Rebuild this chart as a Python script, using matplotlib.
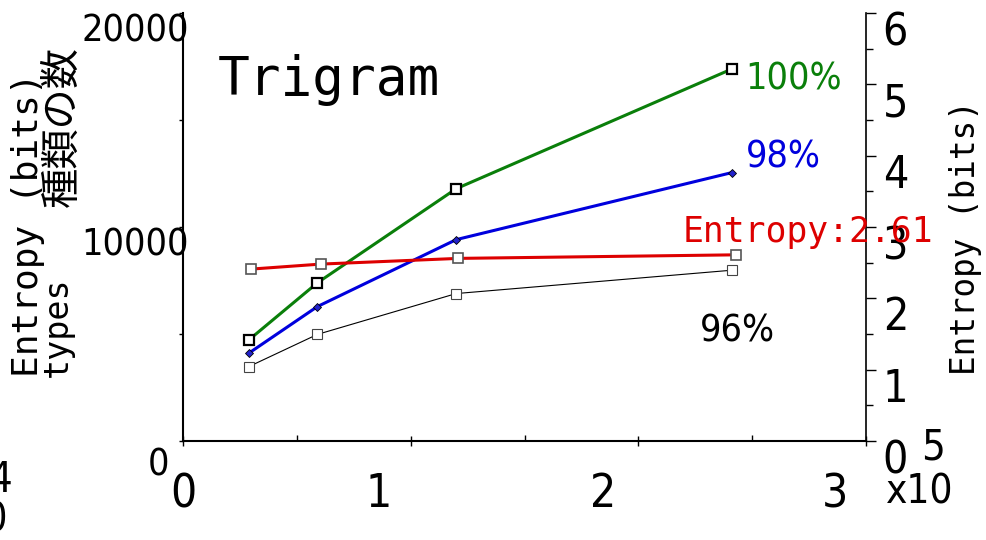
import matplotlib
matplotlib.use("Agg")
import matplotlib.pyplot as plt
from matplotlib.ticker import FixedLocator, FuncFormatter
from matplotlib.transforms import ScaledTranslation

# コーパスサイズ（語数）とトライグラムの種類数
corpus_size = [29000, 59000, 120000, 241000]
types_100 = [4730, 7390, 11790, 17380]
types_98 = [4110, 6280, 9410, 12540]
types_96 = [3480, 4980, 6890, 7980]

# エントロピー（bits）
entropy_size = [30000, 60500, 121000, 243000]
entropy_bits = [2.41, 2.48, 2.56, 2.61]

x_ticks = [0, 100000, 200000, 300000]
y_ticks = [0, 10000, 20000]
y2_ticks = [0, 1, 2, 3, 4, 5, 6]

GREEN = "#0a7f0a"
BLUE = "#0000dd"
RED = "#dd0000"

NUM_FONT = dict(family=["DejaVu Sans"], stretch="condensed")
MONO_FONT = dict(family=["DejaVu Sans Mono"])
JP_FONT = dict(family=["Noto Sans CJK JP", "DejaVu Sans"])

DPI = 100
fig = plt.figure(figsize=(9.86, 5.40), dpi=DPI)
ax = fig.add_axes([183 / 986, 99 / 540, 683 / 986, 428 / 540])
ax2 = ax.twinx()


def shift(label, dx, dy):
    """ラベルをピクセル単位でずらす"""
    label.set_transform(label.get_transform()
                        + ScaledTranslation(dx / DPI, dy / DPI, fig.dpi_scale_trans))


# 種類数（左軸）
ax.plot(corpus_size, types_96, color="black", lw=0.8, marker="s", ms=6.5,
        mfc="white", mec="#444444", mew=0.8, zorder=3)
ax.plot(corpus_size, types_100, color=GREEN, lw=2.2, marker="s", ms=6.5,
        mfc="white", mec="black", mew=1.6, zorder=4)
ax.plot(corpus_size, types_98, color=BLUE, lw=2.2, marker="D", ms=4.5,
        mfc="#2222cc", mec="black", mew=0.6, zorder=5)

# エントロピー（右軸）
ax2.plot(entropy_size, entropy_bits, color=RED, lw=2.2, marker="s", ms=7,
         mfc="white", mec="#555555", mew=1.2, zorder=3)

ax.set_xlim(0, 300000)
ax.set_ylim(0, 20000)
ax2.set_ylim(0, 6)

for s in ("top", "right"):
    ax.spines[s].set_visible(False)
for s in ("top", "left", "bottom"):
    ax2.spines[s].set_visible(False)
ax.spines["left"].set_linewidth(1.5)
ax.spines["bottom"].set_linewidth(1.5)
ax2.spines["right"].set_linewidth(1.2)

ax.xaxis.set_major_locator(FixedLocator(x_ticks))
ax.xaxis.set_minor_locator(FixedLocator([50000, 150000, 250000]))
ax.xaxis.set_major_formatter(FuncFormatter(lambda v, p: f"{v / 1e5:.0f}"))
ax.tick_params(axis="x", which="major", direction="inout", length=7, width=1,
               pad=19, labelsize=33)
ax.tick_params(axis="x", which="minor", direction="in", length=4, width=1)

ax.yaxis.set_major_locator(FixedLocator(y_ticks))
ax.yaxis.set_minor_locator(FixedLocator([5000, 15000]))
ax.yaxis.set_major_formatter(FuncFormatter(lambda v, p: f"{v:.0f}"))
ax.tick_params(axis="y", which="both", direction="out", length=3, width=1,
               pad=0, labelsize=27)

ax2.yaxis.set_major_locator(FixedLocator(y2_ticks))
ax2.yaxis.set_minor_locator(FixedLocator([0.5, 1.5, 2.5, 3.5, 4.5, 5.5]))
ax2.tick_params(axis="y", which="major", direction="out", length=7, width=1,
                pad=5, labelsize=32)
ax2.tick_params(axis="y", which="minor", direction="out", length=5, width=1)

for lab in ax.get_xticklabels() + ax.get_yticklabels() + ax2.get_yticklabels():
    lab.set_family(NUM_FONT["family"])
    lab.set_stretch(NUM_FONT["stretch"])

# 目盛ラベルの位置調整
for lab, dx in zip(ax.get_xticklabels(), [0, -32, -35, -31]):
    shift(lab, dx, 0)
for lab, (dx, dy) in zip(ax.get_yticklabels(), [(-10, -21), (10, -14), (10, -14)]):
    shift(lab, dx, dy)
for lab in ax2.get_yticklabels():
    shift(lab, 0, -15)

# 軸の倍率表記
fig.text(933 / 986, 1 - 448 / 540, "5", fontsize=30, **NUM_FONT,
         ha="center", va="center")
fig.text(920 / 986, 1 - 492 / 540, "x10", fontsize=29, **NUM_FONT,
         ha="center", va="center")
fig.text(12 / 986, 1 - 480 / 540, "4", fontsize=30, **NUM_FONT,
         ha="right", va="center")
fig.text(8 / 986, 1 - 520 / 540, "x10", fontsize=29, **NUM_FONT,
         ha="right", va="center")

# 軸ラベル
fig.text(28 / 986, 1 - 377 / 540, "Entropy (bits)", fontsize=26, **MONO_FONT,
         rotation=90, ha="center", va="bottom")
fig.text(57 / 986, 1 - 377 / 540, "types", fontsize=24, **MONO_FONT,
         rotation=90, ha="center", va="bottom")
fig.text(62 / 986, 1 - 207 / 540, "種類の数", fontsize=29, **JP_FONT,
         rotation=90, ha="center", va="bottom")
fig.text(965 / 986, 1 - 375 / 540, "Entropy (bits)", fontsize=23.5,
         **MONO_FONT, rotation=90, ha="center", va="bottom")

# タイトルと系列ラベル
fig.text(218 / 986, 1 - 95 / 540, "Trigram", fontsize=38, **MONO_FONT,
         ha="left", va="baseline")
fig.text(745 / 986, 1 - 90 / 540, "100%", fontsize=27, **NUM_FONT,
         color=GREEN, ha="left", va="baseline")
fig.text(746 / 986, 1 - 168 / 540, "98%", fontsize=27, **NUM_FONT,
         color=BLUE, ha="left", va="baseline")
fig.text(683 / 986, 1 - 242 / 540, f"Entropy:{entropy_bits[-1]:.2f}", fontsize=25,
         **MONO_FONT, color=RED, ha="left", va="baseline")
fig.text(700 / 986, 1 - 342 / 540, "96%", fontsize=27, **NUM_FONT,
         color="black", ha="left", va="baseline")

fig.savefig("out.png", dpi=DPI)
plt.close(fig)
